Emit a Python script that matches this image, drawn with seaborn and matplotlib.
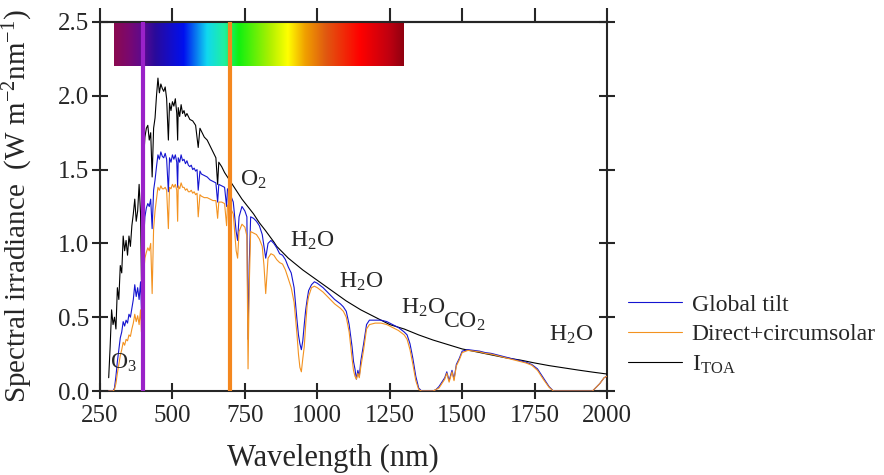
import numpy as np
import pandas as pd
import matplotlib
matplotlib.use("Agg")
import matplotlib.pyplot as plt
import seaborn as sns
from matplotlib.colors import LinearSegmentedColormap

# ---------------- data ----------------
wl_toa = [280, 285, 290, 295, 300, 305, 310, 315, 320, 325,
          330, 335, 340, 345, 350, 355, 360, 365, 370, 375,
          380, 385, 390, 393, 397, 400, 405, 410, 415, 420,
          425, 430, 435, 440, 445, 450, 455, 460, 465, 470,
          475, 480, 486, 490, 495, 500, 505, 510, 515, 518,
          520, 525, 530, 535, 540, 545, 550, 560, 570, 580,
          589, 595, 600, 610, 620, 630, 640, 650, 656, 660,
          670, 680, 690, 700, 720, 740, 760, 780, 800, 820,
          850, 860, 900, 950, 1000, 1050, 1100, 1150, 1200, 1250,
          1300, 1350, 1400, 1450, 1500, 1550, 1600, 1650, 1700, 1750,
          1800, 1850, 1900, 1950, 2000]
toa = [0.09, 0.30, 0.55, 0.45, 0.50, 0.42, 0.70, 0.62, 0.85, 0.80,
       1.05, 0.95, 1.02, 0.92, 1.05, 0.98, 1.12, 1.20, 1.30, 1.15,
       1.22, 1.40, 1.20, 0.75, 1.10, 1.55, 1.72, 1.78, 1.80, 1.70,
       1.75, 1.45, 1.78, 1.85, 2.00, 2.12, 2.02, 2.08, 2.05, 2.03,
       2.06, 1.98, 1.70, 1.95, 1.90, 1.96, 1.93, 1.98, 1.88, 1.70,
       1.92, 1.86, 1.94, 1.88, 1.90, 1.86, 1.88, 1.84, 1.83, 1.80,
       1.65, 1.78, 1.76, 1.72, 1.70, 1.66, 1.62, 1.58, 1.40, 1.55,
       1.52, 1.48, 1.45, 1.42, 1.36, 1.30, 1.25, 1.20, 1.14, 1.09,
       1.01, 0.98, 0.90, 0.82, 0.75, 0.68, 0.61, 0.55, 0.50, 0.45,
       0.42, 0.38, 0.345, 0.315, 0.285, 0.265, 0.245, 0.225, 0.21, 0.19,
       0.172, 0.157, 0.142, 0.128, 0.115]

wl_atm = [280, 295, 300, 305, 310, 315, 320, 325, 330, 335,
          340, 345, 350, 355, 360, 365, 370, 375, 380, 385,
          390, 393, 397, 400, 405, 410, 415, 420, 425, 430,
          435, 440, 445, 450, 455, 460, 465, 470, 475, 480,
          486, 490, 495, 500, 505, 510, 515, 518, 520, 525,
          530, 535, 540, 545, 550, 555, 560, 565, 570, 575,
          580, 585, 589, 595, 600, 610, 620, 630, 640, 650,
          656, 660, 670, 680, 687, 690, 700, 710, 720, 725,
          730, 740, 750, 757, 761, 765, 770, 780, 790, 800,
          810, 816, 822, 830, 840, 850, 860, 870, 880, 890,
          900, 910, 920, 930, 935, 940, 945, 950, 955, 960,
          965, 970, 980, 990, 1000, 1020, 1040, 1060, 1080, 1090,
          1100, 1110, 1120, 1125, 1130, 1135, 1140, 1145, 1150, 1160,
          1170, 1180, 1200, 1220, 1240, 1260, 1280, 1300, 1310, 1320,
          1330, 1340, 1350, 1360, 1400, 1410, 1420, 1430, 1440, 1447,
          1455, 1465, 1472, 1480, 1490, 1500, 1520, 1540, 1560, 1580,
          1600, 1620, 1640, 1660, 1680, 1700, 1720, 1740, 1760, 1780,
          1800, 1815, 1950, 1960, 1975, 1990, 2000]
global_tilt = [0.0, 0.0, 0.02, 0.10, 0.20, 0.28, 0.36, 0.40, 0.47, 0.44,
               0.48, 0.46, 0.52, 0.50, 0.56, 0.62, 0.72, 0.64, 0.70, 0.62,
               0.74, 0.55, 0.78, 1.00, 1.18, 1.24, 1.27, 1.25, 1.30, 1.10,
               1.36, 1.43, 1.52, 1.60, 1.57, 1.62, 1.59, 1.58, 1.61, 1.57,
               1.35, 1.58, 1.55, 1.60, 1.57, 1.60, 1.55, 1.38, 1.58, 1.55,
               1.60, 1.56, 1.57, 1.54, 1.56, 1.53, 1.52, 1.53, 1.50, 1.51,
               1.49, 1.50, 1.36, 1.49, 1.47, 1.46, 1.45, 1.43, 1.42, 1.41,
               1.28, 1.40, 1.39, 1.38, 1.25, 1.37, 1.33, 1.28, 1.08, 1.02,
               1.18, 1.25, 1.22, 1.18, 0.35, 0.85, 1.18, 1.17, 1.15, 1.12,
               1.06, 0.98, 0.90, 1.00, 1.02, 1.00, 0.97, 0.93, 0.92, 0.89,
               0.84, 0.80, 0.70, 0.48, 0.38, 0.32, 0.28, 0.34, 0.45, 0.55,
               0.62, 0.68, 0.72, 0.74, 0.73, 0.70, 0.66, 0.62, 0.59, 0.57,
               0.54, 0.45, 0.30, 0.20, 0.15, 0.08, 0.14, 0.10, 0.20, 0.32,
               0.45, 0.48, 0.48, 0.48, 0.47, 0.45, 0.43, 0.40, 0.38, 0.32,
               0.22, 0.10, 0.02, 0.0, 0.0, 0.01, 0.03, 0.06, 0.09, 0.13,
               0.07, 0.14, 0.08, 0.18, 0.22, 0.27, 0.28, 0.275, 0.27, 0.26,
               0.255, 0.245, 0.235, 0.225, 0.215, 0.205, 0.195, 0.18, 0.15, 0.09,
               0.03, 0.0, 0.0, 0.02, 0.05, 0.09, 0.10]
direct = [0.0, 0.0, 0.01, 0.05, 0.12, 0.18, 0.24, 0.28, 0.33, 0.31,
          0.35, 0.34, 0.38, 0.37, 0.42, 0.46, 0.52, 0.47, 0.51, 0.45,
          0.55, 0.40, 0.58, 0.78, 0.90, 0.94, 0.97, 0.95, 1.00, 0.66,
          1.10, 1.22, 1.30, 1.38, 1.36, 1.39, 1.37, 1.37, 1.38, 1.36,
          1.10, 1.38, 1.37, 1.40, 1.38, 1.40, 1.36, 1.15, 1.39, 1.37,
          1.41, 1.38, 1.38, 1.36, 1.37, 1.35, 1.35, 1.36, 1.34, 1.35,
          1.33, 1.34, 1.18, 1.33, 1.32, 1.31, 1.31, 1.30, 1.29, 1.29,
          1.17, 1.28, 1.28, 1.27, 1.12, 1.26, 1.24, 1.20, 0.95, 0.90,
          1.08, 1.13, 1.11, 1.05, 0.15, 0.70, 1.08, 1.07, 1.06, 1.03,
          0.98, 0.85, 0.66, 0.90, 0.93, 0.92, 0.89, 0.87, 0.86, 0.82,
          0.76, 0.70, 0.60, 0.38, 0.25, 0.16, 0.13, 0.22, 0.30, 0.45,
          0.58, 0.64, 0.70, 0.71, 0.70, 0.67, 0.63, 0.59, 0.56, 0.54,
          0.50, 0.40, 0.22, 0.14, 0.10, 0.08, 0.12, 0.09, 0.16, 0.28,
          0.42, 0.45, 0.46, 0.46, 0.45, 0.43, 0.41, 0.38, 0.35, 0.28,
          0.18, 0.07, 0.01, 0.0, 0.0, 0.01, 0.02, 0.05, 0.08, 0.12,
          0.06, 0.13, 0.07, 0.17, 0.21, 0.26, 0.275, 0.27, 0.265, 0.255,
          0.25, 0.24, 0.23, 0.22, 0.21, 0.20, 0.19, 0.175, 0.14, 0.08,
          0.025, 0.0, 0.0, 0.02, 0.05, 0.09, 0.10]

series_labels = ["Global tilt", "Direct+circumsolar", r"I$_{\mathrm{TOA}}$"]
series_colors = ["#1515D0", "#F39220", "#000000"]

spectrum_nm = [300, 1300]
spectrum_stops = [0.00, 0.05, 0.10, 0.14, 0.24, 0.32, 0.38, 0.43,
                  0.54, 0.60, 0.66, 0.73, 0.85, 0.95, 1.00]
spectrum_colors = ["#8B0A50", "#7A0870", "#5A0A90", "#2A0A9A", "#0010F0",
                   "#10D8F0", "#20F0A0", "#10F010", "#B0F000", "#FFFF00",
                   "#F0A000", "#E05A10", "#FF0000", "#C00010", "#900010"]

visible_edges = [400, 700]
visible_colors = ["#9A22C8", "#F4871E"]

annotations = [("O$_3$", 285, 0.19), ("O$_2$", 733, 1.43), ("H$_2$O", 906, 1.02),
               ("H$_2$O", 1075, 0.74), ("H$_2$O", 1289, 0.56), ("CO$_2$", 1434, 0.47),
               ("H$_2$O", 1800, 0.38)]

x_ticks = [250, 500, 750, 1000, 1250, 1500, 1750, 2000]
y_ticks = [0.0, 0.5, 1.0, 1.5, 2.0, 2.5]

# ---------------- style ----------------
sns.set_style("ticks")
plt.rcParams["font.family"] = ["Liberation Serif", "DejaVu Serif"]
plt.rcParams["mathtext.fontset"] = "custom"
plt.rcParams["mathtext.rm"] = "Liberation Serif"
plt.rcParams["mathtext.it"] = "Liberation Serif:italic"
plt.rcParams["mathtext.bf"] = "Liberation Serif:bold"

fig = plt.figure(figsize=(8.84, 4.75), dpi=100)
ax = fig.add_axes([100 / 884, 84 / 475, 507 / 884, 369 / 475])

df_toa = pd.DataFrame({"wl": wl_toa, "val": toa})
df_atm = pd.DataFrame({"wl": wl_atm, "g": global_tilt, "d": direct})

sns.lineplot(data=df_toa, x="wl", y="val", ax=ax, color=series_colors[2],
             lw=0.8, estimator=None, sort=False, label=series_labels[2], zorder=3)
sns.lineplot(data=df_atm, x="wl", y="g", ax=ax, color=series_colors[0],
             lw=0.8, estimator=None, sort=False, label=series_labels[0], zorder=4)
sns.lineplot(data=df_atm, x="wl", y="d", ax=ax, color=series_colors[1],
             lw=0.8, estimator=None, sort=False, label=series_labels[1], zorder=5)

# spectrum colour bar
cmap = LinearSegmentedColormap.from_list("spec", list(zip(spectrum_stops, spectrum_colors)))
ax.imshow(np.linspace(0, 1, 512)[None, :], extent=[spectrum_nm[0], spectrum_nm[1], 2.2, 2.5],
          aspect="auto", cmap=cmap, zorder=2)

for xv, c in zip(visible_edges, visible_colors):
    ax.axvline(xv, color=c, lw=3.0, zorder=6)

for txt, xv, yv in annotations:
    ax.text(xv, yv, txt, fontsize=17, ha="left", va="center", zorder=7)

ax.set_xlim(250, 2000)
ax.set_ylim(0, 2.5)
ax.set_xticks(x_ticks)
ax.set_yticks(y_ticks)
ax.set_yticklabels([f"{v:.1f}" for v in y_ticks])
ax.tick_params(axis="both", direction="inout", length=12, width=1.5, labelsize=18)
ax.tick_params(axis="y", right=True, pad=2)
ax.tick_params(axis="x", pad=4)
for s in ax.spines.values():
    s.set_linewidth(1.5)
    s.set_visible(True)

sec = ax.secondary_xaxis("top")
sec.set_xticks(x_ticks)
sec.tick_params(direction="out", length=10, width=1.5, labeltop=False)
sec.spines["top"].set_linewidth(1.5)

ax.set_xlabel("Wavelength (nm)", fontsize=22)
ax.xaxis.set_label_coords((333 - 100) / 507, (391 - 444) / 369)
ax.set_ylabel(r"Spectral irradiance  (W m$^{-2}$nm$^{-1}$)", fontsize=21, labelpad=16)

handles, labels = ax.get_legend_handles_labels()
order = [labels.index(l) for l in series_labels]
ax.get_legend().remove()
fig.legend([handles[i] for i in order], [labels[i] for i in order],
           loc="center left", bbox_to_anchor=(628 / 884, 1 - 335 / 475),
           frameon=False, fontsize=17, handlelength=2.3, handletextpad=0.4,
           labelspacing=0.35, borderpad=0, borderaxespad=0)

fig.savefig("out.png", dpi=100)
